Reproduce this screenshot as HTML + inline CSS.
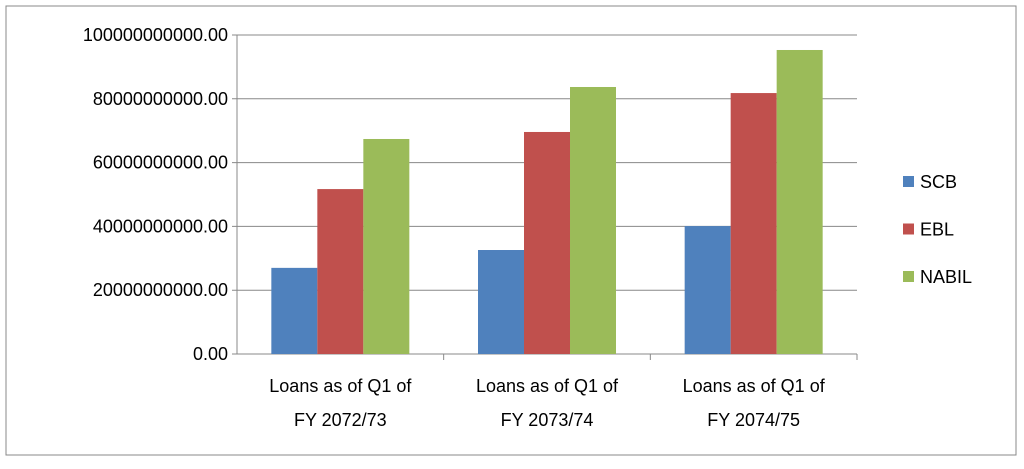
<!DOCTYPE html>
<html><head><meta charset="utf-8"><style>
body{margin:0;background:#fff;}
svg text{font-family:"Liberation Sans",sans-serif;fill:#000;}
</style></head><body>
<svg width="1024" height="464">
<rect x="6" y="6" width="1010" height="449" fill="#fff" stroke="#888" stroke-width="1"/>
<g id="grid"></g><g id="bars"></g><g id="axes"></g><g id="legend"></g>
</svg>
<script>
const categories=[["Loans as of Q1 of","FY 2072/73"],["Loans as of Q1 of","FY 2073/74"],["Loans as of Q1 of","FY 2074/75"]];
const seriesNames=["SCB","EBL","NABIL"];
const SCB=[27.0e9,32.6e9,40.1e9];
const EBL=[51.7e9,69.6e9,81.8e9];
const NABIL=[67.4e9,83.7e9,95.3e9];
const yTicks=[0,20e9,40e9,60e9,80e9,100e9];
const colors=["#4f81bd","#c0504d","#9bbb59"];
const series=[SCB,EBL,NABIL];
const ns="http://www.w3.org/2000/svg";
const x0=237,x1=857,yTop=35,yBot=354,yMax=100e9;
const y=v=>yBot-(v/yMax)*(yBot-yTop);
const cw=(x1-x0)/categories.length;
function mk(t,a,p){const e=document.createElementNS(ns,t);for(const k in a)e.setAttribute(k,a[k]);p.appendChild(e);return e;}
const grid=document.getElementById('grid'),bars=document.getElementById('bars'),axes=document.getElementById('axes'),leg=document.getElementById('legend');
yTicks.forEach(t=>{
 const l=mk('line',{x1:x0-5,x2:x1,y1:y(t),y2:y(t),stroke:t===0?'#888':'#888','stroke-width':1},grid);
 
 
 const tx=mk('text',{x:228,y:y(t)+6,'text-anchor':'end','font-size':18},axes);
 tx.textContent=t===0?"0.00":t.toFixed(0)+".00";
 
 
});
const ya=mk('line',{x1:x0,x2:x0,y1:yTop,y2:yBot,stroke:'#888'},axes);


const bw=46;
categories.forEach((c,i)=>{
 const cx=x0+cw*i+cw/2;
 series.forEach((s,j)=>{
  const bx=cx-1.5*bw+j*bw;
  const r=mk('rect',{x:bx,y:y(s[i]),width:bw,height:yBot-y(s[i]),fill:colors[j]},bars);
  
  
 });
 const tk=mk('line',{x1:x0+cw*(i+1),x2:x0+cw*(i+1),y1:yBot,y2:yBot+6,stroke:'#888'},axes);
 
 
 c.forEach((ln,k)=>{
  const t=mk('text',{x:cx,y:392+k*34,'text-anchor':'middle','font-size':18},axes);
  t.textContent=ln;
  
  
 });
});
seriesNames.forEach((n,j)=>{
 const ly=182+j*47.5;
 const r=mk('rect',{x:903,y:ly-6,width:11,height:11,fill:colors[j]},leg);
 
 
 const t=mk('text',{x:920,y:ly+6,'font-size':18},leg);
 t.textContent=n;
 
 
});
</script>
</body></html>
